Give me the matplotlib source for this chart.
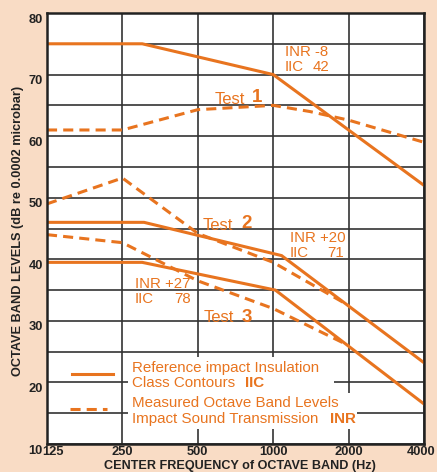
import matplotlib
matplotlib.use("Agg")
import matplotlib.pyplot as plt
import matplotlib.transforms as mtransforms
from matplotlib.patches import Rectangle
from matplotlib.lines import Line2D

# ---- data ----
freq_ticks = [125, 250, 500, 1000, 2000, 4000]
freq_labels = ["125", "250", "500", "1000", "2000", "4000"]
level_ticks = [10, 20, 30, 40, 50, 60, 70, 80]

ref1_f = [125, 300, 1000, 4000]
ref1_v = [75, 75, 70, 52]
ref2_f = [125, 305, 1080, 4000]
ref2_v = [46, 46, 40.6, 23.2]
ref3_f = [125, 300, 1020, 4000]
ref3_v = [39.5, 39.5, 35, 16.5]

meas1_f = [125, 250, 500, 1000, 1400, 2000, 4000]
meas1_v = [61, 61, 64.3, 65, 64, 62.6, 59]
meas2_f = [125, 250, 500, 1000, 2000]
meas2_v = [49, 53.2, 44.2, 39.5, 32.5]
meas3_f = [125, 250, 500, 1000, 2000]
meas3_v = [44, 42.7, 36.5, 32, 26]

ORANGE = "#E8741F"
PEACH = "#F9DCC5"
FONT = "Liberation Sans"

W, H = 437, 472
fig = plt.figure(figsize=(W / 100, H / 100), dpi=100, facecolor=PEACH)
L, R, T, B = 47, 424, 13, 444
ax = fig.add_axes([L / W, 1 - B / H, (R - L) / W, (B - T) / H])
ax.set_facecolor("white")
ax.set_xscale("log", base=2)
ax.set_xlim(125, 4000)
ax.set_ylim(10, 80)


def P(x, y):
    return ((x - L) / (R - L), (B - y) / (B - T))


ax.set_xticks(freq_ticks)
ax.set_xticklabels(freq_labels)
ax.xaxis.set_minor_locator(matplotlib.ticker.NullLocator())
ax.set_yticks(level_ticks)
ax.set_yticks([15, 25, 35, 45, 55, 65, 75], minor=True)
ax.tick_params(which="both", length=0)
ax.tick_params(axis="y", pad=3)
ax.tick_params(axis="x", pad=1.5)
for lab in ax.get_xticklabels() + ax.get_yticklabels():
    lab.set_fontfamily(FONT)
    lab.set_fontweight("bold")
    lab.set_fontsize(9.3)
    lab.set_color("#222222")
off = mtransforms.ScaledTranslation(0, -5 / 100, fig.dpi_scale_trans)
for lab in ax.get_yticklabels():
    lab.set_transform(lab.get_transform() + off)
xl = ax.get_xticklabels()
xl[0].set_transform(xl[0].get_transform() + mtransforms.ScaledTranslation(6 / 100, 0, fig.dpi_scale_trans))
xl[-1].set_transform(xl[-1].get_transform() + mtransforms.ScaledTranslation(-3 / 100, 0, fig.dpi_scale_trans))

ax.set_axisbelow(True)
ax.grid(which="both", axis="y", color="#333333", lw=1.2)
ax.grid(which="major", axis="x", color="#333333", lw=1.2)
for s in ax.spines.values():
    s.set_color("#222222")
    s.set_linewidth(1.8)
    s.set_zorder(5)

# white boxes behind the legend text
x0, y0 = P(128, 393)
x1, y1 = P(334, 357)
ax.add_patch(Rectangle((x0, y0), x1 - x0, y1 - y0, transform=ax.transAxes,
                       facecolor="white", edgecolor="none", zorder=1))
x0, y0 = P(128, 429)
x1, y1 = P(357, 393)
ax.add_patch(Rectangle((x0, y0), x1 - x0, y1 - y0, transform=ax.transAxes,
                       facecolor="white", edgecolor="none", zorder=1))

solid_kw = dict(color=ORANGE, lw=2.2, solid_joinstyle="miter", zorder=3)
dash_kw = dict(color=ORANGE, lw=2.2, dashes=(3.3, 2.0), dash_capstyle="butt", zorder=3)
for f, v in [(ref1_f, ref1_v), (ref2_f, ref2_v), (ref3_f, ref3_v)]:
    ax.plot(f, v, **solid_kw)
for f, v in [(meas1_f, meas1_v), (meas2_f, meas2_v), (meas3_f, meas3_v)]:
    ax.plot(f, v, **dash_kw)

# legend samples
a, b = P(72, 374), P(113, 374)
ax.add_line(Line2D([a[0], b[0]], [a[1], b[1]], transform=ax.transAxes, **solid_kw))
a, b = P(70, 409), P(107, 409)
ax.add_line(Line2D([a[0], b[0]], [a[1], b[1]], transform=ax.transAxes, **dash_kw))


def txt(x, y, s, size=10.8, weight="normal"):
    ax.text(*P(x, y), s, transform=ax.transAxes, ha="left", va="center",
            fontsize=size, fontweight=weight, color=ORANGE, family=FONT, zorder=4)


def rtxt(x, y, s, size=10.8, weight="normal"):
    ax.text(*P(x, y), s, transform=ax.transAxes, ha="right", va="center",
            fontsize=size, fontweight=weight, color=ORANGE, family=FONT, zorder=4)


LG = 10.9
txt(132, 368, "Reference impact Insulation", LG)
txt(132, 383, "Class Contours", LG)
txt(245, 383, "IIC", LG, "bold")
txt(132, 403, "Measured Octave Band Levels", LG)
txt(132, 419, "Impact Sound Transmission", LG)
txt(330, 419, "INR", LG, "bold")

txt(285, 52, "INR -8")
txt(285, 67, "IIC")
rtxt(329, 67, "42")
txt(215, 99, "Test", 12)
txt(252, 98, "1", 13.5, "bold")
txt(203, 225, "Test", 12)
txt(241, 224, "2", 13.5, "bold")
txt(204, 318, "Test", 12)
txt(242, 317, "3", 13.5, "bold")
txt(290, 238, "INR +20")
txt(290, 253, "IIC")
rtxt(344, 253, "71")
txt(135, 284, "INR +27")
txt(135, 299, "IIC")
rtxt(191, 299, "78")

fig.text(18 / W, 1 - 231 / H, "OCTAVE BAND LEVELS (dB re 0.0002 microbar)", rotation=90,
         ha="center", va="center", fontsize=9.2, fontweight="bold", family=FONT, color="#222222")
fig.text(240 / W, 1 - 466.5 / H, "CENTER FREQUENCY of OCTAVE BAND (Hz)",
         ha="center", va="center", fontsize=9.1, fontweight="bold", family=FONT, color="#222222")

fig.savefig("out.png", dpi=100, facecolor=PEACH)
